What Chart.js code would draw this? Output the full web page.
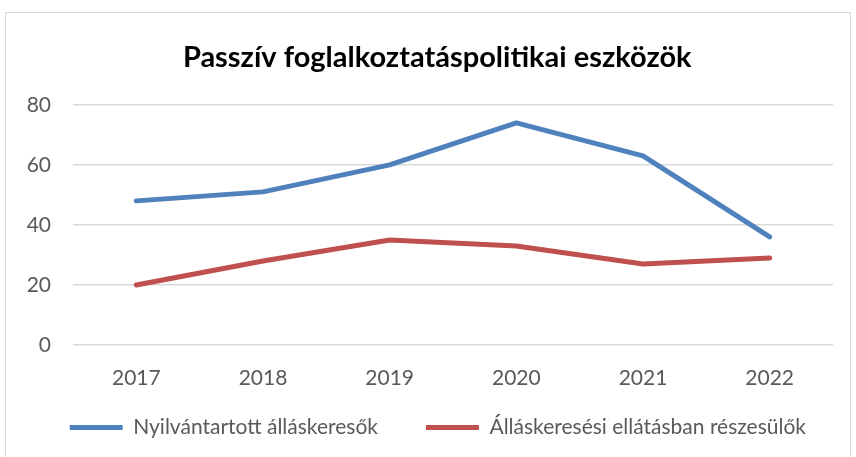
<!DOCTYPE html>
<html lang="hu">
<head>
    <meta charset="UTF-8">
    <title>Passzív foglalkoztatáspolitikai eszközök</title>
    <script src="https://cdn.jsdelivr.net/npm/chart.js"></script>
    <style>
        html, body {
            margin: 0;
            padding: 0;
            width: 856px;
            height: 457px;
            overflow: hidden;
            background: #ffffff;
        }
        .frame {
            position: absolute;
            left: 5px;
            top: 12px;
            width: 844px;
            height: 460px;
            border: 1px solid #d9d9d9;
            pointer-events: none;
        }
        .chart-box {
            position: absolute;
            left: 0;
            top: 0;
            width: 856px;
            height: 457px;
        }
    </style>
</head>
<body>

<div class="chart-box">
    <canvas id="myChart"></canvas>
</div>
<div class="frame"></div>

<script>
    // Valeurs
    const years = ['2017', '2018', '2019', '2020', '2021', '2022'];
    const nyilvantartott = [48, 51, 60, 74, 63, 36];
    const ellatasban = [20, 28, 35, 33, 27, 29];
    const seriesNames = ['Nyilvántartott álláskeresők', 'Álláskeresési ellátásban részesülők'];
    const yTicks = [0, 20, 40, 60, 80];

    const fontName = 'Lato, Roboto, sans-serif';
    const grey = '#595959';

    const config = {
        type: 'line',
        data: {
            labels: years,
            datasets: [{
                label: seriesNames[0],
                data: nyilvantartott,
                borderColor: '#4f81bd',
                backgroundColor: '#4f81bd',
                borderWidth: 5,
                borderCapStyle: 'round',
                borderJoinStyle: 'round',
                pointRadius: 0,
                tension: 0
            }, {
                label: seriesNames[1],
                data: ellatasban,
                borderColor: '#c0504d',
                backgroundColor: '#c0504d',
                borderWidth: 5,
                borderCapStyle: 'round',
                borderJoinStyle: 'round',
                pointRadius: 0,
                tension: 0
            }]
        },
        options: {
            responsive: false,
            animation: false,
            layout: {
                padding: { left: 27, right: 23, top: 29, bottom: 9 }
            },
            plugins: {
                title: {
                    display: true,
                    // espace en tête pour décaler le titre un peu à droite
                    text: '\u2002Passzív foglalkoztatáspolitikai eszközök',
                    color: '#000000',
                    font: { family: fontName, size: 29, weight: 'bold', lineHeight: 1.2 },
                    padding: { top: 11, bottom: 30 }
                },
                legend: {
                    position: 'bottom',
                    align: 'end',
                    labels: {
                        usePointStyle: true,
                        pointStyle: 'line',
                        pointStyleWidth: 53,
                        padding: 27,
                        color: grey,
                        font: { family: fontName, size: 21 },
                        // espace supplémentaire entre les deux entrées
                        generateLabels: function(chart) {
                            const items = Chart.defaults.plugins.legend.labels.generateLabels(chart);
                            items[0].text = items[0].text + '\u2002\u2002';
                            return items;
                        }
                    }
                },
                tooltip: { enabled: false }
            },
            scales: {
                x: {
                    offset: true,
                    grid: { display: false, drawTicks: false },
                    border: { display: false },
                    ticks: {
                        color: grey,
                        padding: 21,
                        font: { family: fontName, size: 21 }
                    },
                    afterFit: function(scale) { scale.height = 45; }
                },
                y: {
                    min: yTicks[0],
                    max: yTicks[yTicks.length - 1],
                    afterBuildTicks: function(scale) {
                        scale.ticks = yTicks.map(v => ({ value: v }));
                    },
                    grid: { color: '#d9d9d9', lineWidth: 1.5, drawTicks: false },
                    border: { display: false },
                    ticks: {
                        color: grey,
                        padding: 22,
                        font: { family: fontName, size: 21 }
                    },
                    afterFit: function(scale) { scale.width = 46; }
                }
            }
        }
    };

    const canvas = document.getElementById('myChart');
    canvas.width = 856;
    canvas.height = 457;
    const myChart = new Chart(canvas, config);
</script>

</body>
</html>
